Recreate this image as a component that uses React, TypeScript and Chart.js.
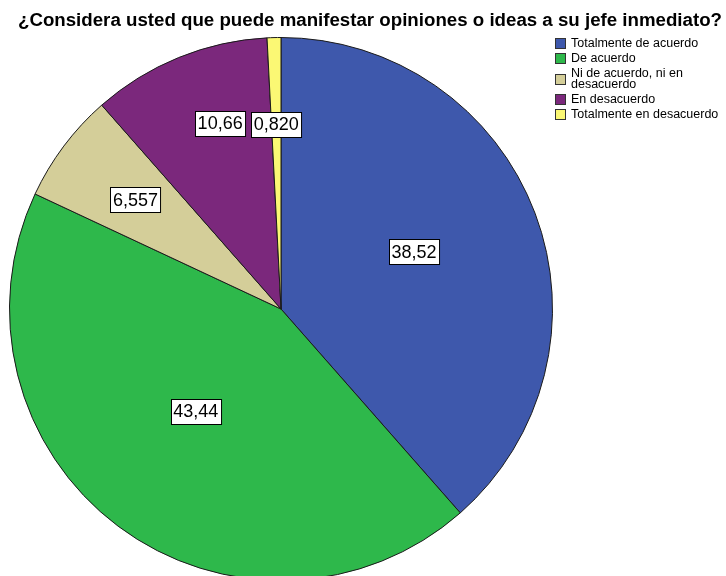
import React, { useEffect, useRef } from "react";
import { Chart, registerables } from "chart.js";

Chart.register(...registerables);

const title = "¿Considera usted que puede manifestar opiniones o ideas a su jefe inmediato?";
const categories = [
  "Totalmente de acuerdo",
  "De acuerdo",
  "Ni de acuerdo, ni en desacuerdo",
  "En desacuerdo",
  "Totalmente en desacuerdo",
];
const legendLines = [
  ["Totalmente de acuerdo"],
  ["De acuerdo"],
  ["Ni de acuerdo, ni en", "desacuerdo"],
  ["En desacuerdo"],
  ["Totalmente en desacuerdo"],
];
const values = [38.52, 43.44, 6.557, 10.66, 0.82];
const valueLabels = ["38,52", "43,44", "6,557", "10,66", "0,820"];
const colors = ["#3E58AC", "#2EB84B", "#D4CE99", "#7B287C", "#FBF874"];

// label placement style: fraction of radius and angular nudge (degrees)
const labelRadiusFrac = [0.533, 0.49, 0.67, 0.72, 0.68];
const labelAngleNudge = [-2.6, 3, 0, 4, 0];

const labelPlugin = {
  id: "boxLabels",
  afterDatasetsDraw(chart: any) {
    const ctx = chart.ctx;
    const meta = chart.getDatasetMeta(0);
    ctx.save();
    ctx.font = "18px 'Liberation Sans', Arial, sans-serif";
    ctx.textAlign = "center";
    ctx.textBaseline = "middle";
    meta.data.forEach((arc: any, i: number) => {
      const { x, y, startAngle, endAngle, outerRadius } = arc.getProps(
        ["x", "y", "startAngle", "endAngle", "outerRadius"],
        true
      );
      const mid = (startAngle + endAngle) / 2 + (labelAngleNudge[i] * Math.PI) / 180;
      const r = outerRadius * labelRadiusFrac[i];
      const cx = x + Math.cos(mid) * r;
      const cy = y + Math.sin(mid) * r;
      const text = valueLabels[i];
      const w = ctx.measureText(text).width + 5;
      const h = 25;
      const bx = Math.round(cx - w / 2) + 0.5;
      const by = Math.round(cy - h / 2) + 0.5;
      ctx.fillStyle = "#ffffff";
      ctx.fillRect(bx, by, w, h);
      ctx.strokeStyle = "#000000";
      ctx.lineWidth = 1;
      ctx.strokeRect(bx, by, w, h);
      ctx.fillStyle = "#000000";
      ctx.fillText(text, cx, cy + 1);
    });
    ctx.restore();
  },
};

export default function App() {
  const ref = useRef<HTMLCanvasElement>(null);
  useEffect(() => {
    if (!ref.current) return;
    const chart = new Chart(ref.current, {
      type: "pie",
      data: {
        labels: categories,
        datasets: [
          {
            data: values,
            backgroundColor: colors,
            borderColor: "#1a1a1a",
            borderWidth: 1,
          },
        ],
      },
      options: {
        responsive: false,
        animation: false,
        layout: { padding: { left: 9, right: 173, top: 36, bottom: 18 } },
        plugins: {
          legend: { display: false },
          tooltip: { enabled: false },
          title: { display: false },
        },
      },
      plugins: [labelPlugin],
    });
    return () => chart.destroy();
  }, []);

  return (
    <div
      style={{
        position: "absolute",
        left: 0,
        top: 0,
        width: 726,
        height: 576,
        overflow: "hidden",
        background: "#fff",
        fontFamily: "'Liberation Sans', Arial, sans-serif",
      }}
    >
      <canvas ref={ref} width={726} height={600} style={{ position: "absolute", left: 0, top: 0 }} />
      <div
        style={{
          position: "absolute",
          left: 0,
          top: 9,
          width: 740,
          textAlign: "center",
          fontWeight: "bold",
          fontSize: 18.7,
          whiteSpace: "nowrap",
          lineHeight: "22px",
        }}
      >
        {title}
      </div>
      <div style={{ position: "absolute", left: 555, top: 38, fontSize: 12.5, lineHeight: "11px", whiteSpace: "nowrap" }}>
        {legendLines.map((lines, i) => (
          <div key={i} style={{ display: "flex", alignItems: "center", marginBottom: 4 }}>
            <div
              style={{
                width: 9,
                height: 9,
                background: colors[i],
                border: "1px solid #333",
                marginRight: 5,
                flexShrink: 0,
              }}
            />
            <div>
              {lines.map((l, j) => (
                <div key={j}>{l}</div>
              ))}
            </div>
          </div>
        ))}
      </div>
    </div>
  );
}
